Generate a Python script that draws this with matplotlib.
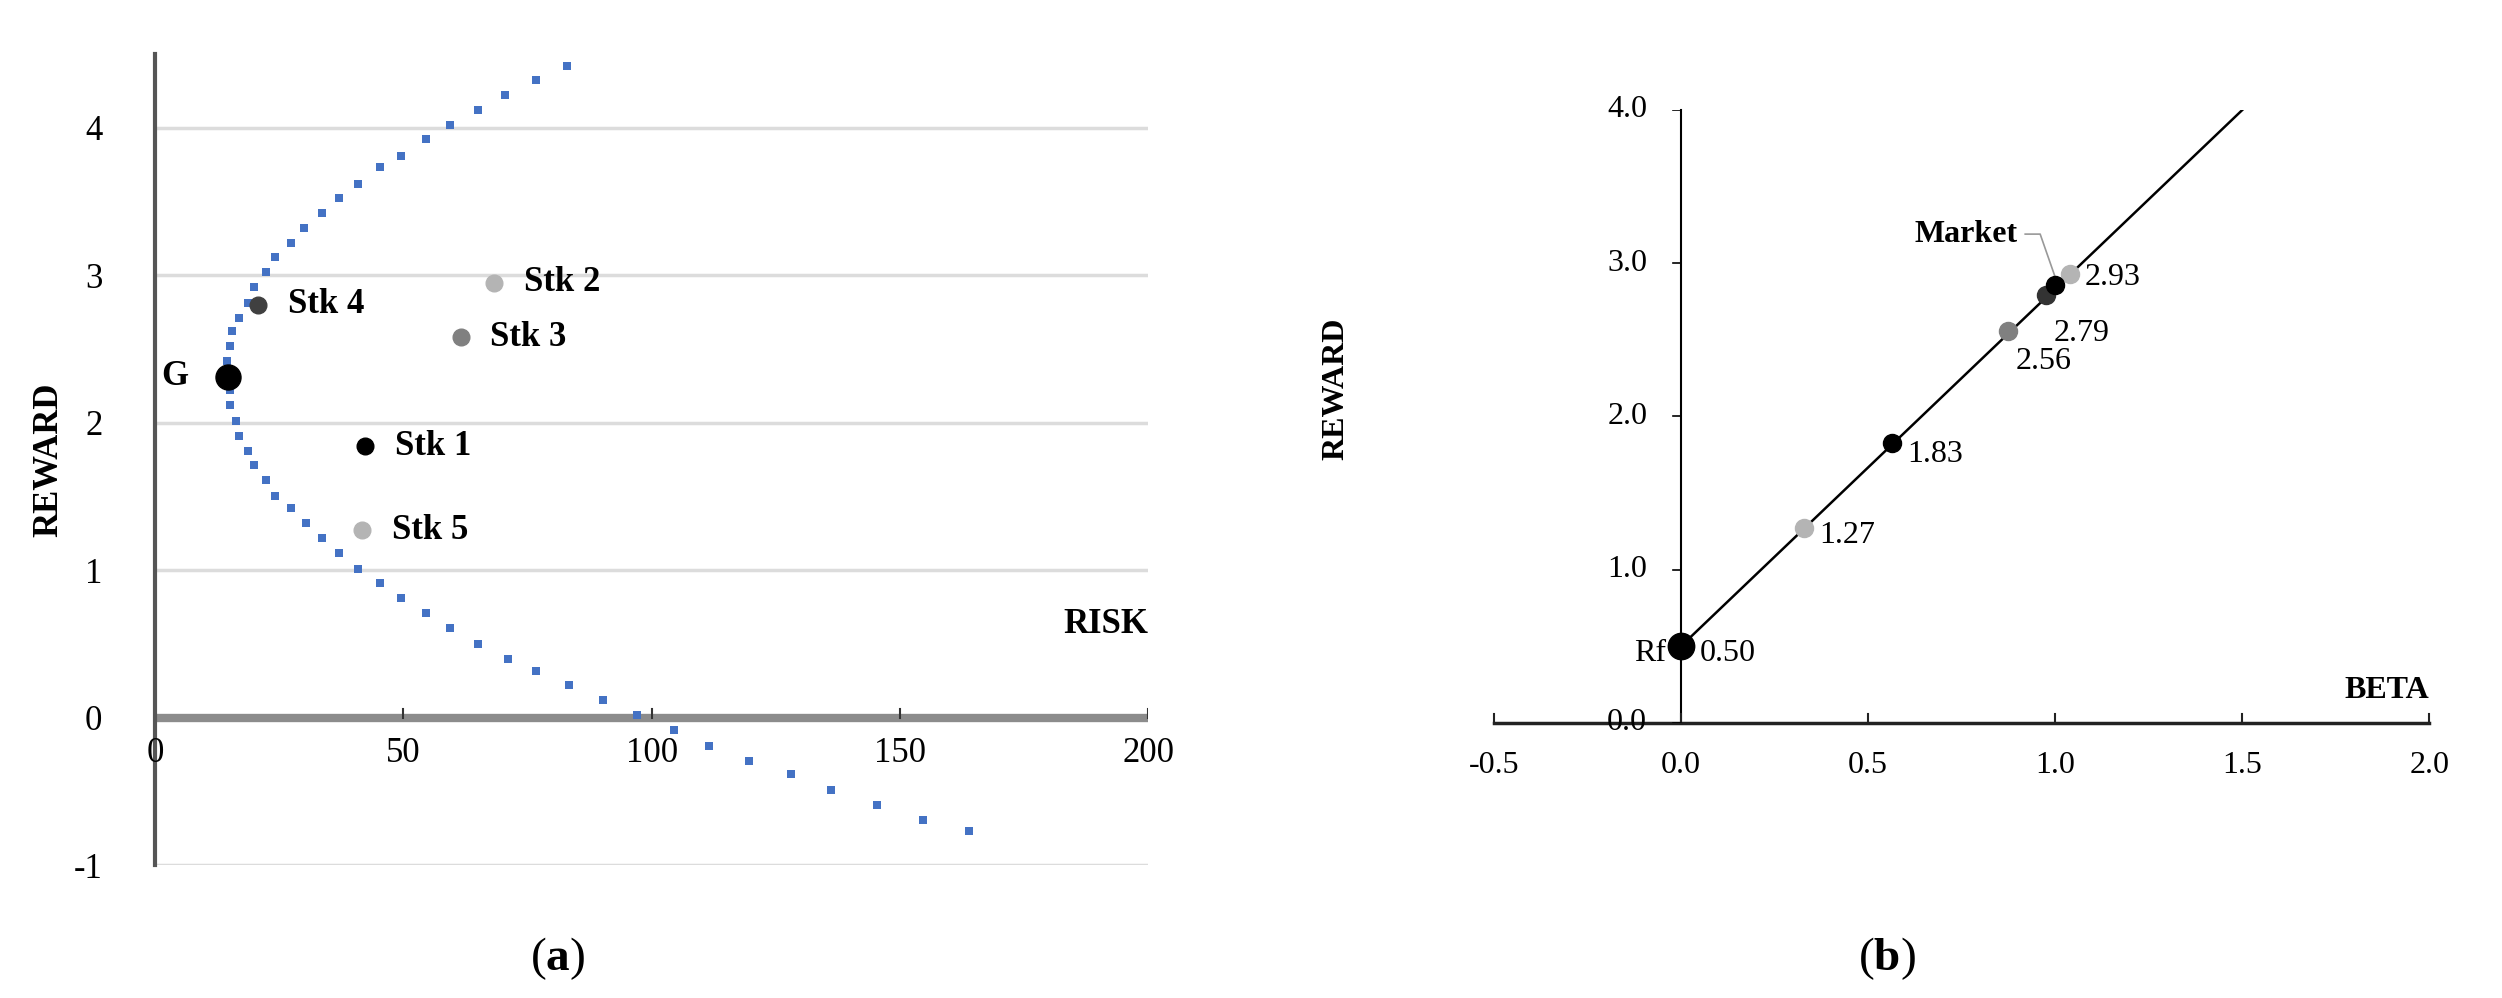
import numpy as np
import matplotlib
matplotlib.use('Agg')
import matplotlib.pyplot as plt

plt.rcParams['font.family'] = ['Liberation Serif', 'DejaVu Serif']
plt.rcParams['mathtext.fontset'] = 'custom'
plt.rcParams['mathtext.bf'] = 'Liberation Serif:bold'
plt.rcParams['mathtext.rm'] = 'Liberation Serif'
plt.rcParams['axes.unicode_minus'] = False

# ---------------------------------------------------------------------------
# (a) efficient frontier: risk / reward
FRONT_RISK = [89.7, 82.9, 76.6, 70.5, 65.0, 59.3, 54.5, 49.6, 45.2, 40.9,
              37.1, 33.5, 29.9, 27.4, 24.2, 22.3, 19.9, 18.7, 16.9, 15.5,
              15.0, 14.5, 14.7, 15.0, 15.0, 16.2, 16.9, 18.7, 19.9, 22.3,
              24.2, 27.4, 30.4, 33.5, 37.1, 40.9, 45.2, 49.6, 54.5, 59.3,
              65.0, 71.0, 76.6, 83.4, 90.2, 97.0, 104.5, 111.5, 119.5, 128.1,
              136.1, 145.4, 154.6, 163.8]
FRONT_REWARD = [4.53, 4.42, 4.32, 4.22, 4.12, 4.02, 3.92, 3.81, 3.73, 3.62,
                3.52, 3.42, 3.32, 3.22, 3.12, 3.02, 2.92, 2.81, 2.71, 2.62,
                2.52, 2.42, 2.32, 2.22, 2.12, 2.01, 1.91, 1.81, 1.71, 1.61,
                1.50, 1.42, 1.32, 1.22, 1.12, 1.01, 0.91, 0.81, 0.71, 0.61,
                0.50, 0.40, 0.32, 0.22, 0.12, 0.02, -0.08, -0.19, -0.29, -0.38,
                -0.49, -0.59, -0.69, -0.77]
STOCKS = ['Stk 1', 'Stk 2', 'Stk 3', 'Stk 4', 'Stk 5']
STK_RISK = [42.2, 68.2, 61.5, 20.8, 41.7]
STK_REWARD = [1.84, 2.95, 2.58, 2.80, 1.27]
G_RISK, G_REWARD = 14.7, 2.31

# (b) security market line
BETA = [0.33, 0.565, 0.875, 0.975, 1.04]
SML_REWARD = [1.27, 1.83, 2.56, 2.79, 2.93]
RF = 0.50
MKT_BETA, MKT_REWARD = 1.0, 2.86
LINE_BETA = [0.0, 1.5]
LINE_REWARD = [0.50, 4.0]

STK_COLORS = ['#000000', '#b4b4b4', '#808080', '#404040', '#b4b4b4']
SML_COLORS = ['#b4b4b4', '#000000', '#808080', '#333333', '#b4b4b4']
FRONT_COLOR = '#4472c4'
FS = 25

fig = plt.figure(figsize=(25.02, 9.98), dpi=100)

# ---------------------------------------------------------------------------
ax = fig.add_axes([0.062, 0.133, 0.397, 0.813])
ax.set_xlim(0, 200)
ax.set_ylim(-1, 4.5)
for s in ['top', 'right', 'bottom']:
    ax.spines[s].set_visible(False)
ax.spines['left'].set_color('#555555')
ax.spines['left'].set_linewidth(3)
for yv in [-1, 1, 2, 3, 4]:
    ax.axhline(yv, color='#dcdcdc', lw=2.5, zorder=0)
ax.axhline(0, color='#8c8c8c', lw=6, zorder=1)
ax.set_xticks([])
ax.set_yticks([-1, 0, 1, 2, 3, 4])
ax.tick_params(axis='y', length=0, labelsize=FS, pad=38)
for xv in [0, 50, 100, 150, 200]:
    ax.plot([xv, xv], [0, 0.06], color='#333333', lw=1.5, zorder=2)
    ax.text(xv, -0.13, f'{xv}', ha='center', va='top', fontsize=FS)
ax.plot(FRONT_RISK, FRONT_REWARD, 's', color=FRONT_COLOR, ms=5.5, zorder=3,
        markeredgewidth=0)
ax.plot(G_RISK, G_REWARD, 'o', color='black', ms=18, zorder=4)
ax.text(G_RISK - 8, G_REWARD, 'G', ha='right', va='center', fontsize=FS,
        fontweight='bold')
for name, x, y, c in zip(STOCKS, STK_RISK, STK_REWARD, STK_COLORS):
    ax.plot(x, y, 'o', color=c, ms=12, zorder=4)
    ax.text(x + 6, y, name, ha='left', va='center', fontsize=FS,
            fontweight='bold')
ax.text(200, 0.52, 'RISK', ha='right', va='bottom', fontsize=FS,
        fontweight='bold')
ax.set_ylabel('REWARD', fontsize=FS, fontweight='bold', labelpad=6)

# ---------------------------------------------------------------------------
bx = fig.add_axes([0.597, 0.2756, 0.374, 0.6142])
bx.set_xlim(-0.5, 2.0)
bx.set_ylim(0, 4.0)
for s in ['top', 'right', 'bottom', 'left']:
    bx.spines[s].set_visible(False)
bx.set_xticks([])
bx.set_yticks([])
bx.plot([-0.5, 2.0], [0, 0], color='#222222', lw=2.5, clip_on=False)
bx.plot([0, 0], [0, 4.0], color='black', lw=1.5, clip_on=False)
for xv in [-0.5, 0.0, 0.5, 1.0, 1.5, 2.0]:
    bx.plot([xv, xv], [0, 0.06], color='#222222', lw=1.5, clip_on=False)
    bx.text(xv, -0.18, f'{xv:.1f}', ha='center', va='top', fontsize=FS - 2)
for yv in [0.0, 1.0, 2.0, 3.0, 4.0]:
    bx.plot([-0.02, 0], [yv, yv], color='black', lw=1.2)
    bx.text(-0.09, yv, f'{yv:.1f}', ha='right', va='center', fontsize=FS - 2)
bx.plot(LINE_BETA, LINE_REWARD, color='black', lw=1.8, zorder=2)
bx.plot(0, RF, 'o', color='black', ms=19, zorder=4)
bx.text(-0.04, RF - 0.05, 'Rf', ha='right', va='center', fontsize=FS - 2)
bx.text(0.05, RF - 0.05, f'{RF:.2f}', ha='left', va='center', fontsize=FS - 2)
offs = [(0.04, -0.05), (0.04, -0.08), (0.02, -0.2), (0.02, -0.25), (0.04, -0.02)]
for b, r, c, (dx, dy) in zip(BETA, SML_REWARD, SML_COLORS, offs):
    bx.plot(b, r, 'o', color=c, ms=13, zorder=4)
    bx.text(b + dx, r + dy, f'{r:.2f}', ha='left', va='center', fontsize=FS - 2)
bx.plot(MKT_BETA, MKT_REWARD, 'o', color='black', ms=13, zorder=5)
bx.plot([0.92, 0.96, MKT_BETA], [3.19, 3.19, MKT_REWARD + 0.05],
        color='#999999', lw=1.2, zorder=3)
bx.text(0.9, 3.19, 'Market', ha='right', va='center', fontsize=FS - 2,
        fontweight='bold')
bx.text(2.0, 0.12, 'BETA', ha='right', va='bottom', fontsize=FS - 2,
        fontweight='bold')
fig.text(0.534, 0.61, 'REWARD', rotation=90, ha='center', va='center',
         fontsize=FS - 2, fontweight='bold')

fig.text(0.223, 0.04, r'($\mathbf{a}$)', ha='center', va='center', fontsize=34)
fig.text(0.754, 0.04, r'($\mathbf{b}$)', ha='center', va='center', fontsize=34)

fig.savefig('out.png', dpi=100)
